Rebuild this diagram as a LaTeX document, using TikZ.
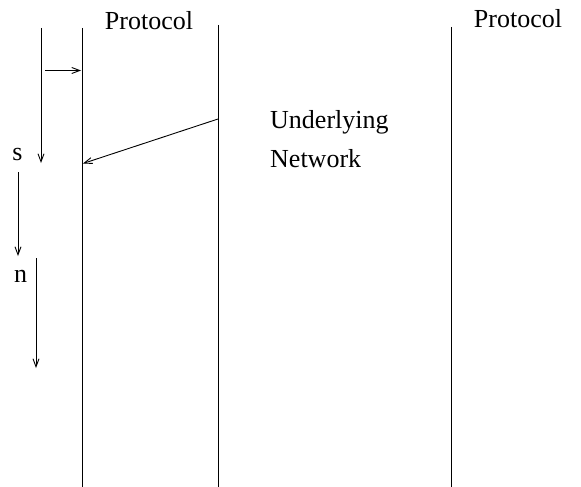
\documentclass[tikz,border=0pt]{standalone}
\usepackage{fontspec}
\setmainfont{Liberation Serif}
\usetikzlibrary{arrows.meta}
\begin{document}
\begin{tikzpicture}[x=1pt,y=-1pt,
  lifeline/.style={line width=1pt},
  msg/.style={line width=0.9pt,-{Straight Barb[length=8pt,width=6pt,line width=0.9pt]}},
  lbl/.style={font=\fontsize{26}{30}\selectfont,inner sep=0pt,anchor=base}]
  \useasboundingbox (0,0) rectangle (581,487);
  % vertical lifelines
  \coordinate (l1t) at (82,28);  \coordinate (l1b) at (82,487);
  \coordinate (l2t) at (218,25); \coordinate (l2b) at (218,487);
  \coordinate (l3t) at (451,27); \coordinate (l3b) at (451,487);
  \draw[lifeline] (l1t) -- (l1b);
  \draw[lifeline] (l2t) -- (l2b);
  \draw[lifeline] (l3t) -- (l3b);
  % labels
  \node[lbl] (p1) at (149,30) {Protocol};
  \node[lbl] (p2) at (518,28) {Protocol};
  \node[lbl,anchor=base west] (u) at (270,128) {Underlying};
  \node[lbl,anchor=base west] (nw) at (270,167) {Network};
  \node[lbl] (s) at (17.5,160) {s};
  \node[lbl] (n) at (20.5,282) {n};
  % messages
  \coordinate (a1) at (41,28);  \coordinate (a2) at (41,163);
  \draw[msg] (a1) -- (a2);
  \coordinate (b1) at (45,70.5); \coordinate (b2) at (81,70.5);
  \draw[msg] (b1) -- (b2);
  \coordinate (c1) at (218,119); \coordinate (c2) at (83,163.5);
  \draw[msg] (c1) -- (c2);
  \coordinate (d1) at (18,172); \coordinate (d2) at (18,256);
  \draw[msg] (d1) -- (d2);
  \coordinate (e1) at (36,258); \coordinate (e2) at (36,368);
  \draw[msg] (e1) -- (e2);
\end{tikzpicture}
\end{document}
